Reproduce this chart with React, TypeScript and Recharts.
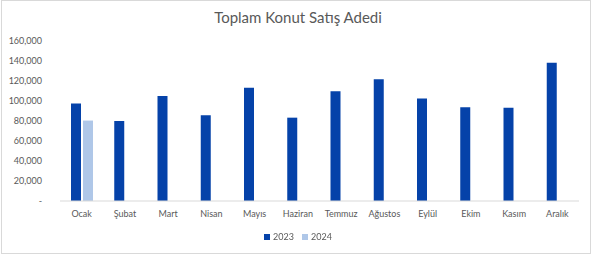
import { BarChart, Bar, XAxis, YAxis } from 'recharts';

const months = ['Ocak', 'Şubat', 'Mart', 'Nisan', 'Mayıs', 'Haziran', 'Temmuz', 'Ağustos', 'Eylül', 'Ekim', 'Kasım', 'Aralık'];
const sales2023 = [97461, 80011, 105085, 85652, 113276, 83335, 109864, 121861, 102438, 93852, 93135, 138286];
const sales2024: (number | null)[] = [80448, null, null, null, null, null, null, null, null, null, null, null];
const yTicks = [0, 20000, 40000, 60000, 80000, 100000, 120000, 140000, 160000];
const series = [
  { key: 'y2023', name: '2023', color: '#0542A9' },
  { key: 'y2024', name: '2024', color: '#AFC7E8' },
];

const data = months.map((m, i) => ({ month: m, y2023: sales2023[i], y2024: sales2024[i] }));

const font = 'Lato, "Open Sans", sans-serif';
const labelColor = '#595959';

export default function App() {
  return (
    <div style={{ position: 'fixed', left: 0, top: 0, width: 593, height: 256, background: '#fff', fontFamily: font }}>
      <div
        style={{
          position: 'absolute',
          left: 1,
          top: 0,
          width: 590,
          height: 254,
          border: '1px solid #d9d9d9',
          boxSizing: 'border-box',
        }}
      />
      <div
        style={{
          position: 'absolute',
          top: 8,
          left: 0,
          width: 596,
          textAlign: 'center',
          fontSize: 15,
          color: labelColor,
        }}
      >
        Toplam Konut Satış Adedi
      </div>
      <div style={{ position: 'absolute', left: 0, top: 0 }}>
        <BarChart
          width={593}
          height={256}
          data={data}
          margin={{ top: 41, right: 14, bottom: 25, left: 0 }}
          barSize={10}
          barGap={2}
        >
          <XAxis
            dataKey="month"
            height={30}
            axisLine={{ stroke: '#d9d9d9' }}
            tickLine={false}
            tickSize={0}
            tickMargin={10}
            interval={0}
            tick={{ fill: labelColor, fontSize: 9, fontFamily: font }}
          />
          <YAxis
            width={60}
            domain={[0, 160000]}
            ticks={yTicks}
            interval={0}
            axisLine={false}
            tickLine={false}
            tickSize={0}
            tickMargin={18}
            tick={{ fill: labelColor, fontSize: 9, fontFamily: font }}
            tickFormatter={(v: number) => (v === 0 ? '-' : v.toLocaleString('en-US'))}
          />
          {series.map((s) => (
            <Bar key={s.key} dataKey={s.key} name={s.name} fill={s.color} isAnimationActive={false} />
          ))}
        </BarChart>
      </div>
      <div
        style={{
          position: 'absolute',
          top: 231,
          left: 0,
          width: 596,
          display: 'flex',
          justifyContent: 'center',
          gap: 8,
          fontSize: 9,
          color: labelColor,
          lineHeight: '12px',
        }}
      >
        {series.map((s) => (
          <span key={s.key} style={{ display: 'flex', alignItems: 'center', gap: 3 }}>
            <span style={{ width: 6, height: 6, background: s.color, display: 'inline-block' }} />
            {s.name}
          </span>
        ))}
      </div>
    </div>
  );
}
